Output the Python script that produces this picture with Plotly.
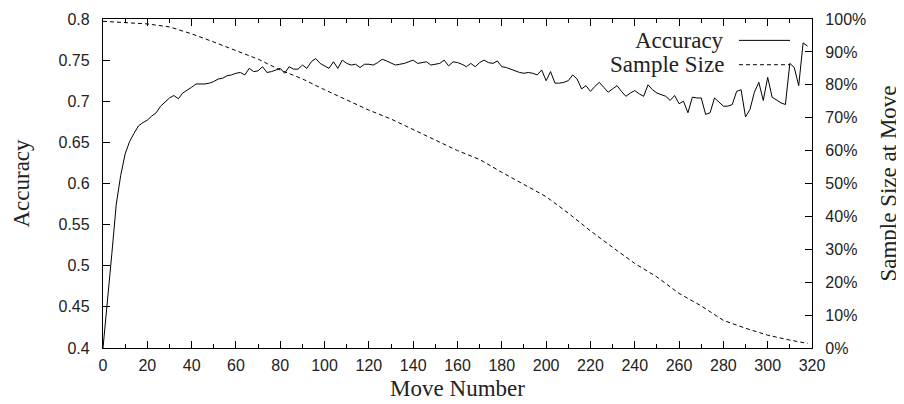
import plotly.graph_objects as go

# accuracy, read every 2 moves
moves = list(range(0, 320, 2))
accuracy = [
    0.400, 0.455, 0.515, 0.575, 0.610, 0.636, 0.651, 0.661, 0.670, 0.674,
    0.677, 0.682, 0.686, 0.694, 0.699, 0.704, 0.707, 0.703, 0.710, 0.713,
    0.717, 0.721, 0.721, 0.721, 0.722, 0.724, 0.727, 0.728, 0.731, 0.732,
    0.734, 0.735, 0.732, 0.740, 0.736, 0.737, 0.742, 0.735, 0.736, 0.738,
    0.740, 0.734, 0.742, 0.739, 0.739, 0.744, 0.740, 0.748, 0.752, 0.746,
    0.743, 0.740, 0.748, 0.740, 0.750, 0.746, 0.744, 0.745, 0.741, 0.745,
    0.745, 0.744, 0.747, 0.751, 0.749, 0.746, 0.744, 0.745, 0.746, 0.748,
    0.750, 0.746, 0.747, 0.748, 0.744, 0.745, 0.746, 0.750, 0.743, 0.748,
    0.747, 0.745, 0.742, 0.746, 0.742, 0.747, 0.750, 0.747, 0.746, 0.749,
    0.742, 0.741, 0.739, 0.737, 0.735, 0.734, 0.735, 0.734, 0.732, 0.738,
    0.725, 0.736, 0.722, 0.722, 0.723, 0.725, 0.732, 0.727, 0.715, 0.719,
    0.712, 0.718, 0.723, 0.717, 0.711, 0.715, 0.719, 0.712, 0.706, 0.710,
    0.713, 0.709, 0.706, 0.720, 0.714, 0.710, 0.708, 0.706, 0.701, 0.707,
    0.697, 0.700, 0.686, 0.705, 0.704, 0.704, 0.684, 0.686, 0.704, 0.699,
    0.694, 0.694, 0.696, 0.712, 0.714, 0.681, 0.690, 0.711, 0.723, 0.701,
    0.729, 0.705, 0.701, 0.698, 0.696, 0.746, 0.741, 0.719, 0.771, 0.767,
]

# share of games still running at that move (%)
sample_moves = [0, 10, 20, 30, 40, 50, 60, 70, 80, 90, 100, 110, 120, 130, 140, 150,
                160, 170, 180, 190, 200, 210, 220, 230, 240, 250, 260, 270, 280, 290,
                300, 310, 318]
sample_size = [99.3, 99.0, 98.5, 97.6, 95.5, 93.0, 90.5, 87.8, 84.5, 81.8, 78.5, 75.5,
               72.3, 69.6, 66.5, 63.2, 60.0, 57.3, 53.4, 49.8, 46.0, 41.0, 35.6, 30.6,
               25.7, 21.6, 16.6, 12.8, 8.4, 6.0, 3.9, 2.4, 1.4]

acc_ticks = [0.4, 0.45, 0.5, 0.55, 0.6, 0.65, 0.7, 0.75, 0.8]
acc_labels = ["0.4", "0.45", "0.5", "0.55", "0.6", "0.65", "0.7", "0.75", "0.8"]

serif = "Liberation Serif"
sans = "Liberation Sans"

fig = go.Figure()
fig.add_trace(go.Scatter(x=moves, y=accuracy, mode="lines", name="Accuracy",
                         line=dict(color="black", width=1)))
fig.add_trace(go.Scatter(x=sample_moves, y=sample_size, mode="lines", name="Sample Size",
                         yaxis="y2", line=dict(color="black", width=1, dash="4px,3px")))

axis_common = dict(showgrid=False, zeroline=False, showline=True, linecolor="black",
                   linewidth=1.3, ticks="inside", ticklen=7, tickcolor="black",
                   automargin=False,
                   tickfont=dict(family=sans, size=16, color="#222"))

# page body adds 8px, so the figure is 8px smaller than the window
fig.update_layout(
    width=896, height=396,
    margin=dict(l=95, r=92, t=11, b=56),
    paper_bgcolor="white", plot_bgcolor="white",
    showlegend=False,
    xaxis=dict(range=[0, 320], dtick=20, mirror="ticks", ticklabelstandoff=3,
               minor=dict(dtick=10, ticklen=4, ticks="inside", tickcolor="black"),
               title=dict(text="Move Number", font=dict(family=serif, size=23, color="#222"),
                          standoff=6),
               **axis_common),
    yaxis=dict(range=[0.4, 0.8], tickvals=acc_ticks, ticktext=acc_labels, ticklabelstandoff=9,
               title=dict(text="Accuracy", font=dict(family=serif, size=23, color="#222"),
                          standoff=22),
               **axis_common),
    yaxis2=dict(range=[0, 100], dtick=10, ticksuffix="%", overlaying="y", side="right",
                ticklabelstandoff=9,
                title=dict(text="Sample Size at Move", font=dict(family=serif, size=23, color="#222"),
                           standoff=14),
                **axis_common),
)

# gnuplot-style key: text on the left, line sample on the right
for label, yp, dash in [("Accuracy", 0.935, "solid"), ("Sample Size", 0.861, "4px,3px")]:
    fig.add_annotation(x=0.879, y=yp, xref="paper", yref="paper", text=label,
                       showarrow=False, xanchor="right", yanchor="middle",
                       font=dict(family=serif, size=23, color="#222"))
    fig.add_shape(type="line", xref="paper", yref="paper", x0=0.897, x1=0.969, y0=yp, y1=yp,
                  line=dict(color="black", width=1, dash=dash))

fig.write_html("out.html")
